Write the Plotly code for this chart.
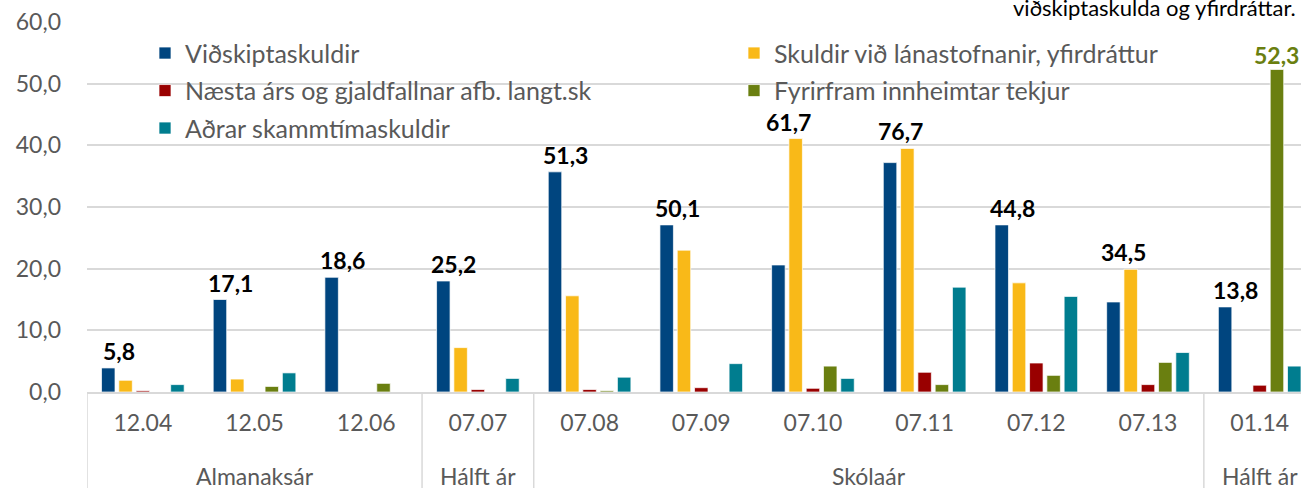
import plotly.graph_objects as go

categories = ["12.04", "12.05", "12.06", "07.07", "07.08", "07.09", "07.10", "07.11", "07.12", "07.13", "01.14"]
category_groups = ["Almanaksár", "Almanaksár", "Almanaksár", "Hálft ár",
                   "Skólaár", "Skólaár", "Skólaár", "Skólaár", "Skólaár", "Skólaár", "Hálft ár"]

vidskiptaskuldir = [3.9, 15.0, 18.6, 18.0, 35.7, 27.1, 20.6, 37.2, 27.1, 14.6, 13.8]
skuldir_lanastofnanir = [1.9, 2.1, 0.0, 7.2, 15.6, 23.0, 41.1, 39.5, 17.7, 19.9, 0.0]
naesta_ars = [0.2, 0.0, 0.0, 0.4, 0.4, 0.7, 0.6, 3.2, 4.7, 1.2, 1.1]
fyrirfram = [0.0, 0.9, 1.4, 0.0, 0.2, 0.0, 4.2, 1.2, 2.7, 4.8, 52.3]
adrar = [1.2, 3.1, 0.0, 2.2, 2.4, 4.6, 2.2, 17.0, 15.5, 6.4, 4.2]

totals = [5.8, 17.1, 18.6, 25.2, 51.3, 50.1, 61.7, 76.7, 44.8, 34.5, 13.8]

title_fragment = "viðskiptaskulda og yfirdráttar."

FONT = "Lato"
GRAY = "#595959"
GRID = "#d9d9d9"

series = [
    ("Viðskiptaskuldir", vidskiptaskuldir, "#00457F", "legend"),
    ("Skuldir við lánastofnanir, yfirdráttur", skuldir_lanastofnanir, "#F9B918", "legend2"),
    ("Næsta árs og gjaldfallnar afb. langt.sk", naesta_ars, "#990000", "legend"),
    ("Fyrirfram innheimtar tekjur", fyrirfram, "#6A7F10", "legend2"),
    ("Aðrar skammtímaskuldir", adrar, "#007D8F", "legend"),
]

fig = go.Figure()
for name, vals, color, leg in series:
    fig.add_trace(go.Bar(
        x=categories, y=vals, name=name,
        marker=dict(color=color, line=dict(color="rgba(255,255,255,0.7)", width=1)),
        legend=leg, legendgroup=name,
    ))

annotations = []
# total labels (sum of trade payables and overdraft)
for i, cat in enumerate(categories):
    top = max(vidskiptaskuldir[i], skuldir_lanastofnanir[i])
    annotations.append(dict(
        x=i, y=top, xref="x", yref="y", text=f"{totals[i]:.1f}".replace(".", ","),
        showarrow=False, xshift=-24, yshift=17, yanchor="middle",
        font=dict(family=FONT, size=23, color="#000000", weight="bold"),
    ))
# green label on last group
last = len(categories) - 1
annotations.append(dict(
    x=last, y=fyrirfram[last], xref="x", yref="y",
    text=f"{fyrirfram[last]:.1f}".replace(".", ","),
    showarrow=False, xshift=17, yshift=14, yanchor="middle",
    font=dict(family=FONT, size=23, color="#6A7F10", weight="bold"),
))

# group labels and dividers
shapes = []
runs = []
start = 0
for i in range(1, len(category_groups) + 1):
    if i == len(category_groups) or category_groups[i] != category_groups[start]:
        runs.append((category_groups[start], start, i - 1))
        start = i
for name, s, e in runs:
    annotations.append(dict(
        x=(s + e) / 2, y=-0.226, xref="x", yref="paper", text=name,
        showarrow=False, yanchor="middle",
        font=dict(family=FONT, size=23, color=GRAY),
    ))
    shapes.append(dict(type="line", xref="x", yref="paper", x0=s - 0.5, x1=s - 0.5,
                       y0=0, y1=-0.3, line=dict(color=GRID, width=1.5)))

annotations.append(dict(
    x=(1298 - 87) / 1214, y=(391.7 - 7) / 370, xref="paper", yref="paper",
    text=title_fragment, showarrow=False, xanchor="right", yanchor="middle",
    font=dict(family=FONT, size=22, color="#000000"),
))

legend_common = dict(
    xanchor="left", yanchor="top",
    font=dict(family=FONT, size=25, color=GRAY), bgcolor="rgba(0,0,0,0)",
    traceorder="grouped", tracegroupgap=2, itemwidth=30,
)

fig.update_layout(
    width=1301, height=488,
    margin=dict(l=87, r=0, t=22, b=96),
    plot_bgcolor="white", paper_bgcolor="white",
    barmode="group", bargap=0.226, bargroupgap=0.22,
    separators=", ",
    font=dict(family=FONT, color=GRAY),
    xaxis=dict(
        type="category", range=[-0.5, 10.37], showgrid=False,
        showline=True, linecolor=GRID, linewidth=1.5, ticks="",
        tickfont=dict(family=FONT, size=23, color=GRAY), ticklabelstandoff=10,
    ),
    yaxis=dict(
        range=[0, 60], dtick=10, tickformat=".1f", showgrid=True, gridcolor=GRID,
        gridwidth=1.5, zeroline=False, showline=False, ticks="",
        tickfont=dict(family=FONT, size=23, color=GRAY), ticklabelstandoff=25,
    ),
    legend=dict(x=(145 - 87) / 1214, y=(391.7 - 30) / 370, **legend_common),
    legend2=dict(x=(734 - 87) / 1214, y=(391.7 - 30) / 370, **legend_common),
    annotations=annotations,
    shapes=shapes,
)

fig.write_html("out.html", config={"displayModeBar": False},
               post_script="document.body.style.margin='0px';")
